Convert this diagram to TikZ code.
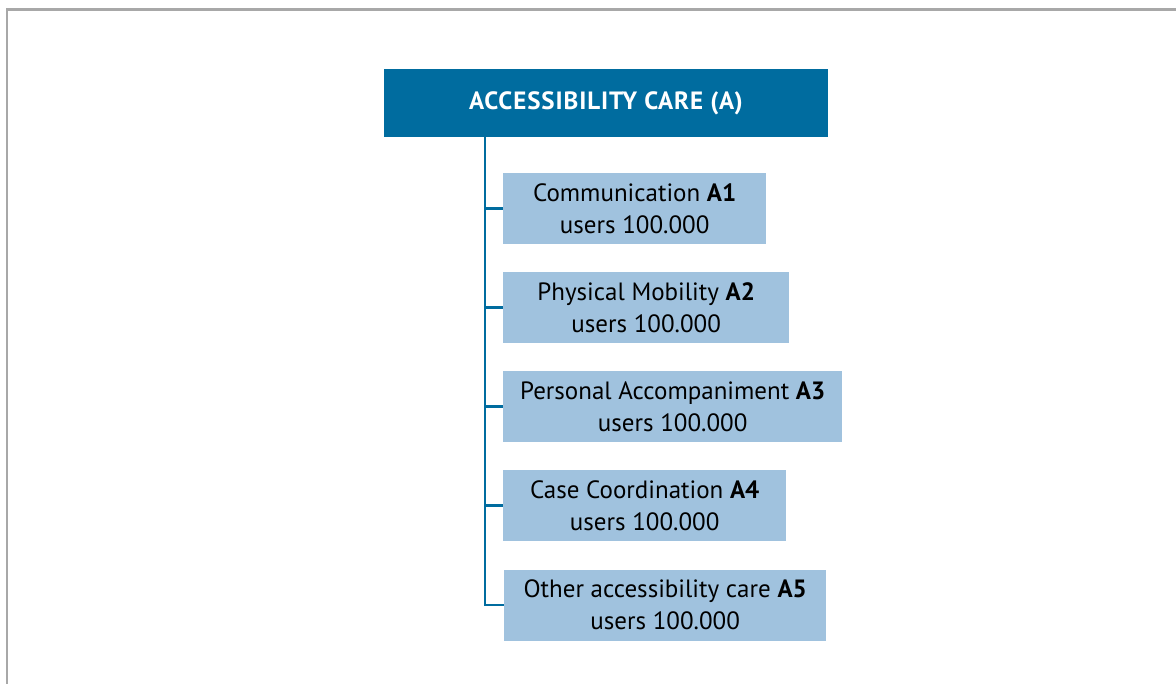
\documentclass[tikz,border=0pt]{standalone}
\usepackage{fontspec}
\setmainfont{PT Sans}
\newfontfamily\headfont[LetterSpace=3.6]{PT Sans}
\definecolor{headblue}{HTML}{006C9F}
\definecolor{boxblue}{HTML}{A0C2DE}
\definecolor{framegray}{HTML}{A8A8A8}
\begin{document}
\begin{tikzpicture}[x=1pt,y=-1pt,
  headbox/.style={fill=headblue, text=white, font=\headfont\fontsize{25}{30}\selectfont\bfseries,
    minimum width=444pt, minimum height=68pt, inner sep=0pt},
  itembox/.style={fill=boxblue, text=black, font=\fontsize{25}{32}\selectfont,
    align=center, minimum height=71pt, inner sep=0pt, anchor=west},
  conn/.style={draw=headblue, line width=2.5pt}]
\useasboundingbox (0,0) rectangle (1176,684);
\draw[framegray, line width=2.5pt] (7,684) -- (7,9.5) -- (1176,9.5);
\node[headbox] (head) at (606,103) {ACCESSIBILITY CARE (A)};
\node[itembox, minimum width=263pt] (a1) at (503,208.5) {Communication \textbf{A1}\\users 100.000};
\node[itembox, minimum width=286pt] (a2) at (503,307.5) {Physical Mobility \textbf{A2}\\users 100.000};
\node[itembox, minimum width=339pt] (a3) at (503,406.5) {Personal Accompaniment \textbf{A3}\\users 100.000};
\node[itembox, minimum width=283pt] (a4) at (503,505.5) {Case Coordination \textbf{A4}\\users 100.000};
\node[itembox, minimum width=322pt] (a5) at (504,605) {Other accessibility care \textbf{A5}\\users 100.000};
\coordinate (top) at (485,137);
\draw[conn] (top) |- (a5.west);
\foreach \n in {a1,a2,a3,a4} {\draw[conn] (\n.west -| top) -- (\n.west);}
\end{tikzpicture}
\end{document}
